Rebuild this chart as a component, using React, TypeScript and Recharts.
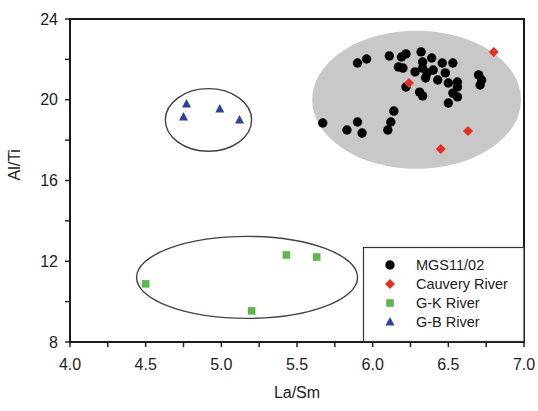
import { ScatterChart, Scatter, XAxis, YAxis, ReferenceArea } from "recharts"

const xTicks = [4, 4.25, 4.5, 4.75, 5, 5.25, 5.5, 5.75, 6, 6.25, 6.5, 6.75, 7]
const yTicks = [8, 10, 12, 14, 16, 18, 20, 22, 24]

const mgs = [
  { x: 5.67, y: 18.85 }, { x: 5.83, y: 18.5 }, { x: 5.9, y: 18.9 }, { x: 5.93, y: 18.35 },
  { x: 6.1, y: 18.5 }, { x: 6.12, y: 18.9 }, { x: 6.14, y: 19.44 }, { x: 5.9, y: 21.82 },
  { x: 5.96, y: 22.02 }, { x: 6.11, y: 22.17 }, { x: 6.19, y: 22.12 }, { x: 6.22, y: 22.27 },
  { x: 6.32, y: 22.37 }, { x: 6.39, y: 22.07 }, { x: 6.33, y: 21.87 }, { x: 6.46, y: 21.82 },
  { x: 6.53, y: 21.82 }, { x: 6.17, y: 21.62 }, { x: 6.2, y: 21.57 }, { x: 6.28, y: 21.38 },
  { x: 6.33, y: 21.57 }, { x: 6.36, y: 21.33 }, { x: 6.4, y: 21.47 }, { x: 6.48, y: 21.33 },
  { x: 6.35, y: 21.08 }, { x: 6.43, y: 20.98 }, { x: 6.5, y: 20.83 }, { x: 6.56, y: 20.88 },
  { x: 6.56, y: 20.63 }, { x: 6.53, y: 20.33 }, { x: 6.56, y: 20.14 }, { x: 6.5, y: 19.84 },
  { x: 6.31, y: 20.38 }, { x: 6.33, y: 20.19 }, { x: 6.22, y: 20.63 }, { x: 6.7, y: 21.23 },
  { x: 6.72, y: 20.98 }, { x: 6.71, y: 20.73 },
]
const cauvery = [
  { x: 6.24, y: 20.83 }, { x: 6.8, y: 22.37 }, { x: 6.63, y: 18.45 }, { x: 6.45, y: 17.56 },
]
const gkRiver = [
  { x: 4.5, y: 10.88 }, { x: 5.43, y: 12.31 }, { x: 5.63, y: 12.21 }, { x: 5.2, y: 9.54 },
]
const gbRiver = [
  { x: 4.77, y: 19.79 }, { x: 4.99, y: 19.54 }, { x: 4.75, y: 19.15 }, { x: 5.12, y: 19.0 },
]

// ellipses given by their bounding box in data units
const ellipses = [
  { x1: 5.6, x2: 6.98, y1: 16.58, y2: 23.42, fill: "#c8c8c8", stroke: "none" },
  { x1: 4.63, x2: 5.2, y1: 17.45, y2: 20.55, fill: "none", stroke: "#4a4040" },
  { x1: 4.44, x2: 5.9, y1: 9.17, y2: 13.23, fill: "none", stroke: "#4a4040" },
]

const legendItems = [
  { label: "MGS11/02", kind: "circle", color: "#000" },
  { label: "Cauvery River", kind: "diamond", color: "#e5301f" },
  { label: "G-K River", kind: "square", color: "#5cb84a" },
  { label: "G-B River", kind: "triangle", color: "#2e3f9f" },
]

const font = "'Liberation Sans', Arial, sans-serif"

const W = 538
const H = 411
const margin = { top: 19, right: 14, bottom: 9, left: 0 }
const yAxisWidth = 70
const xAxisHeight = 60
const plotLeft = margin.left + yAxisWidth
const plotRight = W - margin.right
const plotTop = margin.top
const plotBottom = H - margin.bottom - xAxisHeight

function Marker({ kind, cx, cy, color }: any) {
  if (kind === "circle") return <circle cx={cx} cy={cy} r={4.7} fill={color} />
  if (kind === "diamond")
    return (
      <polygon
        points={`${cx},${cy - 5} ${cx + 5},${cy} ${cx},${cy + 5} ${cx - 5},${cy}`}
        fill={color}
      />
    )
  if (kind === "square")
    return <rect x={cx - 3.8} y={cy - 3.8} width={7.6} height={7.6} fill={color} />
  return (
    <polygon
      points={`${cx},${cy - 5} ${cx + 4.5},${cy + 3.5} ${cx - 4.5},${cy + 3.5}`}
      fill={color}
    />
  )
}

const EllipseShape = (e: any) => (props: any) => {
  const { x, y, width, height } = props
  return (
    <ellipse
      cx={x + width / 2}
      cy={y + height / 2}
      rx={Math.abs(width) / 2}
      ry={Math.abs(height) / 2}
      fill={e.fill}
      stroke={e.stroke}
      strokeWidth={1.4}
    />
  )
}

const shapeOf = (kind: string, color: string) => (p: any) =>
  <Marker kind={kind} cx={p.cx} cy={p.cy} color={color} />

export default function App() {
  return (
    <div style={{ position: "absolute", left: 0, top: 0, width: W, height: H, background: "#fff" }}>
      <ScatterChart width={W} height={H} margin={margin} style={{ fontFamily: font }}>
        <XAxis
          type="number"
          dataKey="x"
          domain={[4, 7]}
          ticks={xTicks}
          tickFormatter={(v: number) => ((v * 2) % 1 === 0 ? v.toFixed(1) : "")}
          height={xAxisHeight}
          tickSize={5}
          tickMargin={12}
          stroke="#222"
          strokeWidth={1.5}
          tick={{ fill: "#222", fontSize: 16 }}
          label={{ value: "La/Sm", position: "insideBottom", offset: 4, fill: "#222", fontSize: 16 }}
        />
        <YAxis
          type="number"
          dataKey="y"
          domain={[8, 24]}
          ticks={yTicks}
          tickFormatter={(v: number) => (v % 4 === 0 ? String(v) : "")}
          width={yAxisWidth}
          tickSize={5}
          tickMargin={7}
          stroke="#222"
          strokeWidth={1.5}
          tick={{ fill: "#222", fontSize: 16 }}
          label={{ value: "Al/Ti", angle: -90, position: "insideLeft", offset: 14, fill: "#222", fontSize: 16 }}
        />
        {ellipses.map((e, i) => (
          <ReferenceArea
            key={"ell" + i}
            x1={e.x1}
            x2={e.x2}
            y1={e.y1}
            y2={e.y2}
            shape={EllipseShape(e)}
          />
        ))}
        <Scatter data={mgs} isAnimationActive={false} shape={shapeOf("circle", "#000")} />
        <Scatter data={cauvery} isAnimationActive={false} shape={shapeOf("diamond", "#e5301f")} />
        <Scatter data={gkRiver} isAnimationActive={false} shape={shapeOf("square", "#5cb84a")} />
        <Scatter data={gbRiver} isAnimationActive={false} shape={shapeOf("triangle", "#2e3f9f")} />
      </ScatterChart>
      <svg
        width={W}
        height={H}
        style={{ position: "absolute", left: 0, top: 0, fontFamily: font, pointerEvents: "none" }}
      >
        {/* plot frame */}
        <rect
          x={plotLeft}
          y={plotTop}
          width={plotRight - plotLeft}
          height={plotBottom - plotTop}
          fill="none"
          stroke="#1a1a1a"
          strokeWidth={2}
        />
        <g transform={`translate(363,247)`}>
          <rect x={0.5} y={0.5} width={plotRight - 363 - 0.5} height={plotBottom - 247 - 1} fill="#fff" stroke="#333" strokeWidth={1.2} />
          {legendItems.map((it, i) => (
            <g key={it.label}>
              <Marker kind={it.kind} cx={27} cy={18 + i * 19} color={it.color} />
              <text x={53} y={18 + i * 19} dy="0.36em" fontSize={14.5} fill="#222">
                {it.label}
              </text>
            </g>
          ))}
        </g>
      </svg>
    </div>
  )
}
